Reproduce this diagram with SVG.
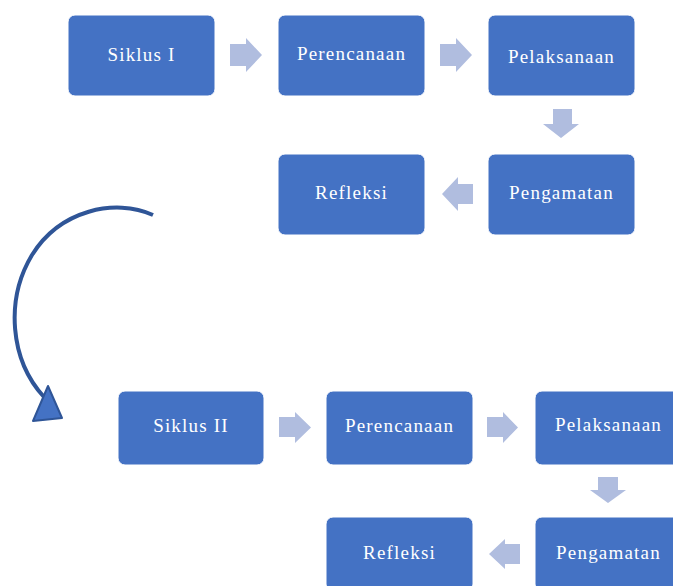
<svg xmlns="http://www.w3.org/2000/svg" width="673" height="586" viewBox="0 0 673 586">
<style>
.box{fill:#4472C4;stroke:#ffffff;stroke-width:1}
.lbl{font-family:"Liberation Serif","DejaVu Serif",serif;font-size:19px;letter-spacing:1.2px;fill:#ffffff;text-anchor:middle}
.arr{fill:#B0BDDF}
</style>
<rect width="673" height="586" fill="#ffffff"/>
<g id="connectors">
<polygon class="arr" points="230,44 246,44 246,38 262,55 246,72 246,66 230,66"/>
<polygon class="arr" points="440,44 456,44 456,38 472,55 456,72 456,66 440,66"/>
<polygon class="arr" points="553,109 572,109 572,124 579,124 561,138 543,124 553,124"/>
<polygon class="arr" points="473,184 458,184 458,177 442,194 458,211 458,204 473,204"/>
<polygon class="arr" points="279,417 295,417 295,412 311,427.5 295,443 295,437 279,437"/>
<polygon class="arr" points="487,417 503,417 503,412 518,427.5 503,443 503,437 487,437"/>
<polygon class="arr" points="598,477 618,477 618,490 626,490 608,503 590,490 598,490"/>
<polygon class="arr" points="520,544 505,544 505,539 489,554 505,569 505,564 520,564"/>
<path d="M153,215 C115,198 60,210 32,255 C5,300 10,360 44,397" fill="none" stroke="#2F5597" stroke-width="4"/>
<polygon points="48,386 62,418 33,421" fill="#4472C4" stroke="#2F5597" stroke-width="2" stroke-linejoin="round"/>
</g>
<g id="n1"><rect class="box" x="68" y="15" width="147" height="81" rx="7"/><text class="lbl" x="141.5" y="61">Siklus I</text></g>
<g id="n2"><rect class="box" x="278" y="15" width="147" height="81" rx="7"/><text class="lbl" x="351.5" y="60">Perencanaan</text></g>
<g id="n3"><rect class="box" x="488" y="15" width="147" height="81" rx="7"/><text class="lbl" x="561.5" y="63">Pelaksanaan</text></g>
<g id="n4"><rect class="box" x="488" y="154" width="147" height="81" rx="7"/><text class="lbl" x="561.5" y="199">Pengamatan</text></g>
<g id="n5"><rect class="box" x="278" y="154" width="147" height="81" rx="7"/><text class="lbl" x="351.5" y="199">Refleksi</text></g>
<g id="m1"><rect class="box" x="118" y="391" width="146" height="74" rx="7"/><text class="lbl" x="191" y="432">Siklus II</text></g>
<g id="m2"><rect class="box" x="326" y="391" width="147" height="74" rx="7"/><text class="lbl" x="399.5" y="432">Perencanaan</text></g>
<g id="m3"><rect class="box" x="535" y="391" width="147" height="74" rx="7"/><text class="lbl" x="608.5" y="431">Pelaksanaan</text></g>
<g id="m4"><rect class="box" x="535" y="517" width="147" height="74" rx="7"/><text class="lbl" x="608.5" y="559">Pengamatan</text></g>
<g id="m5"><rect class="box" x="326" y="517" width="147" height="74" rx="7"/><text class="lbl" x="399.5" y="559">Refleksi</text></g>
</svg>
